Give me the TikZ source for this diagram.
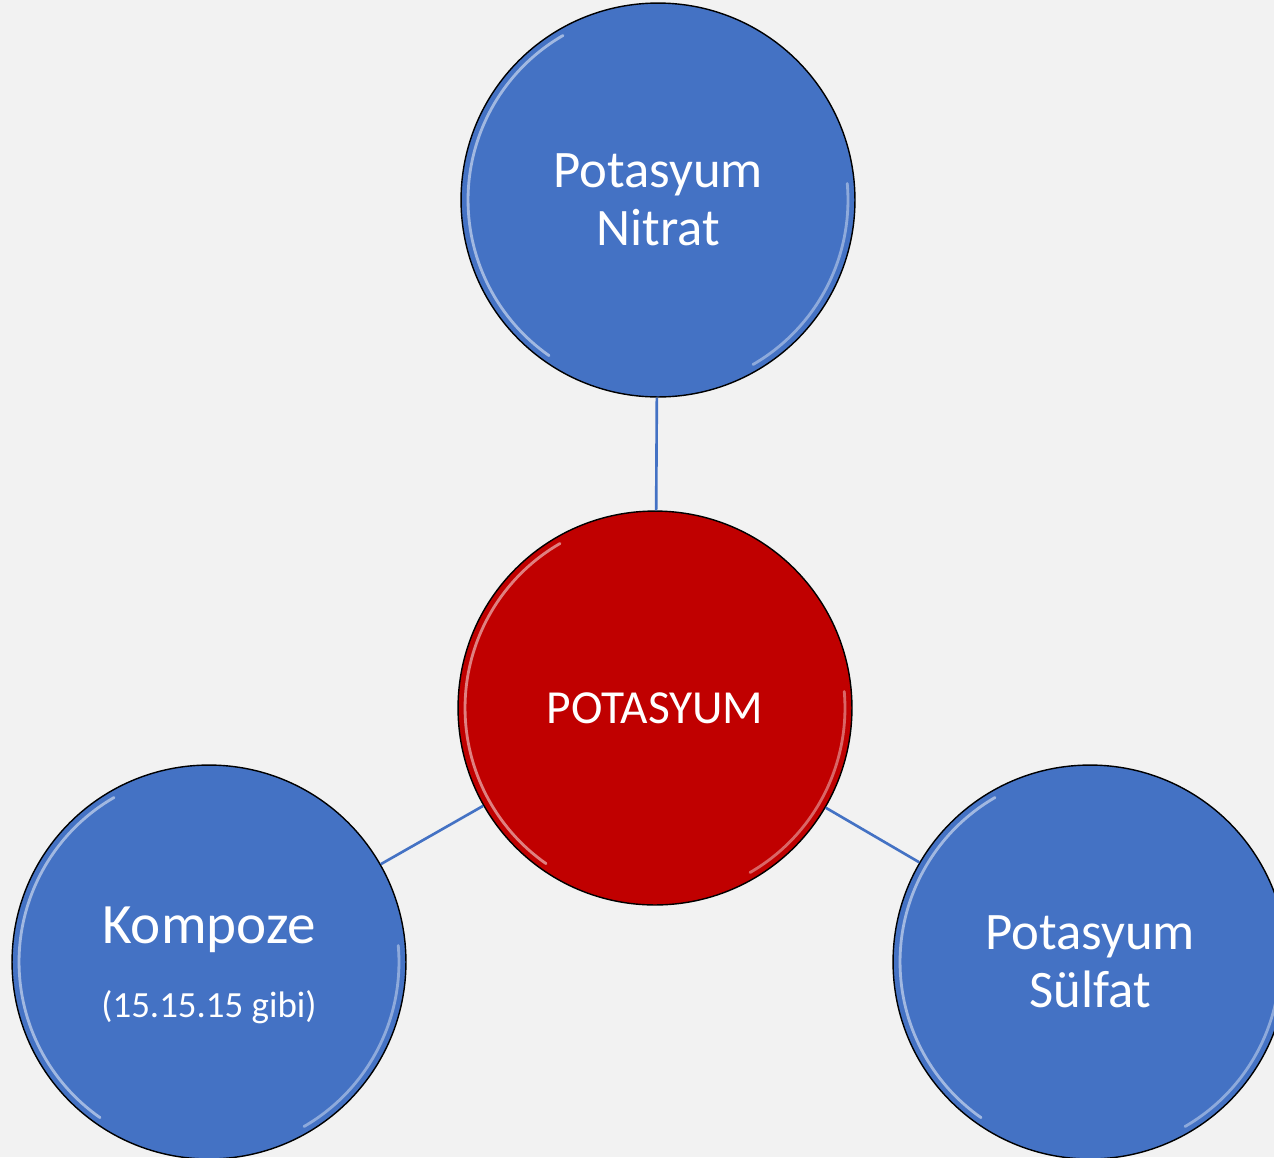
\documentclass[tikz,border=0pt]{standalone}
\usepackage{fontspec}
\setmainfont{Carlito}
\definecolor{bubbleblue}{HTML}{4472C4}
\definecolor{bubblered}{HTML}{C00000}
\definecolor{paper}{HTML}{F2F2F2}
\tikzset{
  bubble/.style={circle, draw=black, line width=0.8pt, minimum size=7.88cm,
    inner sep=0pt, text=white, align=center, font=\fontsize{30}{33}\selectfont,
    path picture={
      \draw[white, opacity=.5, line width=1.6pt, line cap=round]
        ([shift={(120:3.8cm)}]path picture bounding box.center) arc (120:235:3.8cm);
      \draw[white, opacity=.4, line width=1.6pt, line cap=round]
        ([shift={(-60:3.8cm)}]path picture bounding box.center) arc (-60:5:3.8cm);
    }},
  link/.style={draw=bubbleblue, line width=1.5pt}
}
\begin{document}
\begin{tikzpicture}[x=0.02cm, y=-0.02cm]
    \fill[paper] (0, 0) rectangle (1274, 1157);
    \useasboundingbox (0, 0) rectangle (1274, 1157);
    \clip (0, 0) rectangle (1274, 1157);
    % center and its three sources
    \node[bubble, fill=bubblered, font=\fontsize{27}{31}\selectfont] (potasyum) at (655, 708) {POTASYUM};
    \node[bubble, fill=bubbleblue] (nitrat) at (658, 200) {Potasyum\\Nitrat};
    \node[bubble, fill=bubbleblue, text depth=0pt] (kompoze) at (209, 962)
      {{\fontsize{32.5}{38}\selectfont Kompoze}\\[9pt]{\fontsize{21}{24}\selectfont (15.15.15 gibi)}};
    \node[bubble, fill=bubbleblue] (sulfat) at (1090, 962) {Potasyum\\Sülfat};
    \draw[link] (nitrat) -- (potasyum);
    \draw[link] (kompoze) -- (potasyum);
    \draw[link] (sulfat) -- (potasyum);
  \end{tikzpicture}
\end{document}
